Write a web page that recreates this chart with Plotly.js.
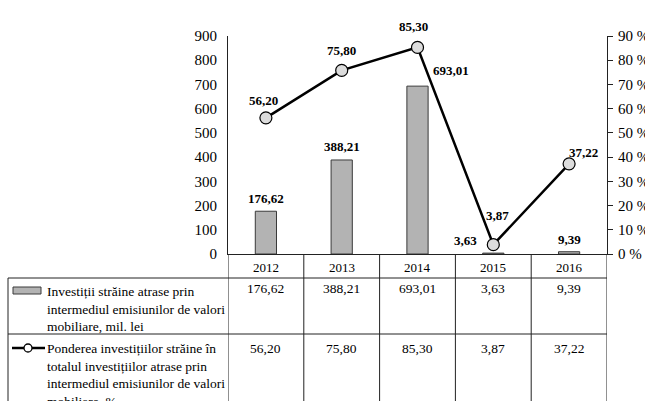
<!DOCTYPE html>
<html>
<head>
<meta charset="utf-8">
<script src="https://cdn.plot.ly/plotly-3.0.1.min.js"></script>
<style>html,body{margin:0;padding:0;background:#fff;}#chart{width:645px;height:401px;}</style>
</head>
<body>
<div id="chart"></div>
<script>
// ---- data ----
const years = ['2012', '2013', '2014', '2015', '2016'];
const investVals = [176.62, 388.21, 693.01, 3.63, 9.39];
const shareVals = [56.20, 75.80, 85.30, 3.87, 37.22];
const investLabels = ['176,62', '388,21', '693,01', '3,63', '9,39'];
const shareLabels = ['56,20', '75,80', '85,30', '3,87', '37,22'];
const seriesNames = [
  'Investiții străine atrase prin<br>intermediul emisiunilor de valori<br>mobiliare, mil. lei',
  'Ponderea investițiilor străine în<br>totalul investițiilor atrase prin<br>intermediul emisiunilor de valori<br>mobiliare, %'
];

// ---- layout helpers (pixel geometry of the plot area) ----
const W = 645, H = 401;
const PL = 228, PR = 607, PT = 36, PB = 254;
const px = x => (x - PL) / (PR - PL);
const py = y => (PB - y) / (PB - PT);
const FONT = 'Liberation Serif, Times New Roman, serif';

// label placements (style, not data)
const barLblPos = [
  {xa: 'center', xs: 0, ys: 3},
  {xa: 'center', xs: 0, ys: 4},
  {xa: 'left', xs: 13, ys: 6},
  {xa: 'right', xs: -14, ys: 3},
  {xa: 'center', xs: 0, ys: 3}
];
const lineLblPos = [
  {xa: 'center', xs: -2, ys: 8},
  {xa: 'center', xs: 0, ys: 10},
  {xa: 'center', xs: -4, ys: 11},
  {xa: 'center', xs: 4, ys: 20},
  {xa: 'left', xs: -2, ys: 2}
];

const traces = [
  {
    type: 'bar', x: years, y: investVals, width: 0.28,
    marker: {color: '#b3b3b3', line: {color: '#3a3a3a', width: 1}},
    hoverinfo: 'skip', showlegend: false
  },
  {
    type: 'scatter', mode: 'lines+markers', x: years, y: shareVals, yaxis: 'y2',
    line: {color: '#000', width: 2.5},
    marker: {symbol: 'circle', size: 12, color: '#dcdcdc', line: {color: '#000', width: 1.2}},
    hoverinfo: 'skip', showlegend: false, cliponaxis: false
  }
];

const annotations = [];
years.forEach((yr, i) => {
  const xi = years.indexOf(yr); // category position on the x axis
  annotations.push({
    x: xi, y: investVals[i], xref: 'x', yref: 'y', text: '<b>' + investLabels[i] + '</b>',
    showarrow: false, xanchor: barLblPos[i].xa, yanchor: 'bottom',
    xshift: barLblPos[i].xs, yshift: barLblPos[i].ys,
    font: {family: FONT, size: 13, color: '#000'}
  });
  annotations.push({
    x: xi, y: shareVals[i], xref: 'x', yref: 'y2', text: '<b>' + shareLabels[i] + '</b>',
    showarrow: false, xanchor: lineLblPos[i].xa, yanchor: 'bottom',
    xshift: lineLblPos[i].xs, yshift: lineLblPos[i].ys,
    font: {family: FONT, size: 13, color: '#000'}
  });
  annotations.push({
    x: xi, y: py(267), xref: 'x', yref: 'paper', text: yr, showarrow: false,
    xanchor: 'center', yanchor: 'middle', font: {family: FONT, size: 13, color: '#000'}
  });
  annotations.push({
    x: xi, y: py(288), xref: 'x', yref: 'paper', text: investLabels[i], showarrow: false,
    xanchor: 'center', yanchor: 'middle', font: {family: FONT, size: 13.5, color: '#000'}
  });
  annotations.push({
    x: xi, y: py(348), xref: 'x', yref: 'paper', text: shareLabels[i], showarrow: false,
    xanchor: 'center', yanchor: 'middle', font: {family: FONT, size: 13.5, color: '#000'}
  });
});
annotations.push({
  x: px(45), y: py(282), xref: 'paper', yref: 'paper', text: seriesNames[0], showarrow: false,
  xanchor: 'left', yanchor: 'top', align: 'left', font: {family: FONT, size: 13.5, color: '#000'}
});
annotations.push({
  x: px(45), y: py(339), xref: 'paper', yref: 'paper', text: seriesNames[1], showarrow: false,
  xanchor: 'left', yanchor: 'top', align: 'left', font: {family: FONT, size: 13.5, color: '#000'}
});

const LC = '#222';
const shapes = [
  {type: 'line', xref: 'paper', yref: 'paper', x0: px(8), x1: 1, y0: py(278), y1: py(278), line: {color: LC, width: 1}},
  {type: 'line', xref: 'paper', yref: 'paper', x0: px(8), x1: 1, y0: py(334), y1: py(334), line: {color: LC, width: 1}},
  {type: 'line', xref: 'paper', yref: 'paper', x0: px(8), x1: px(8), y0: py(278), y1: py(410), line: {color: LC, width: 1}},
  {type: 'rect', xref: 'paper', yref: 'paper', x0: px(13), x1: px(41), y0: py(287), y1: py(294),
   fillcolor: '#b3b3b3', line: {color: '#3a3a3a', width: 1}},
  {type: 'line', xref: 'paper', yref: 'paper', x0: px(12), x1: px(45), y0: py(348), y1: py(348), line: {color: '#000', width: 2.5}},
  {type: 'circle', xref: 'paper', yref: 'paper', x0: px(24), x1: px(32), y0: py(344), y1: py(352),
   fillcolor: '#fff', line: {color: '#000', width: 1.3}}
];
for (let k = 0; k <= years.length; k++) {
  shapes.push({type: 'line', xref: 'x', yref: 'paper', x0: k - 0.5, x1: k - 0.5, y0: 0, y1: py(410),
    line: {color: LC, width: 1}});
}

const layout = {
  width: W, height: H,
  margin: {l: PL, r: W - PR, t: PT, b: H - PB, pad: 0},
  paper_bgcolor: '#fff', plot_bgcolor: '#fff',
  font: {family: FONT, size: 14, color: '#000'},
  showlegend: false,
  bargap: 0,
  xaxis: {
    type: 'category', range: [-0.5, 4.5], showticklabels: false, ticks: '',
    showline: true, linecolor: LC, linewidth: 1, showgrid: false, zeroline: false, fixedrange: true
  },
  yaxis: {
    range: [0, 900], dtick: 100, tick0: 0, showgrid: false, zeroline: false,
    showline: true, linecolor: LC, linewidth: 1, ticks: '', ticklabelstandoff: 7,
    tickfont: {family: FONT, size: 15, color: '#000'}, fixedrange: true
  },
  yaxis2: {
    overlaying: 'y', side: 'right', range: [0, 90], dtick: 10, tick0: 0, ticksuffix: ' %',
    showgrid: false, zeroline: false, showline: true, linecolor: LC, linewidth: 1,
    ticks: 'outside', ticklen: 5, tickcolor: LC, tickwidth: 1, ticklabelstandoff: 2,
    tickfont: {family: FONT, size: 15, color: '#000'}, fixedrange: true
  },
  annotations: annotations,
  shapes: shapes
};

Plotly.newPlot('chart', traces, layout, {displayModeBar: false, staticPlot: true});
</script>
</body>
</html>
